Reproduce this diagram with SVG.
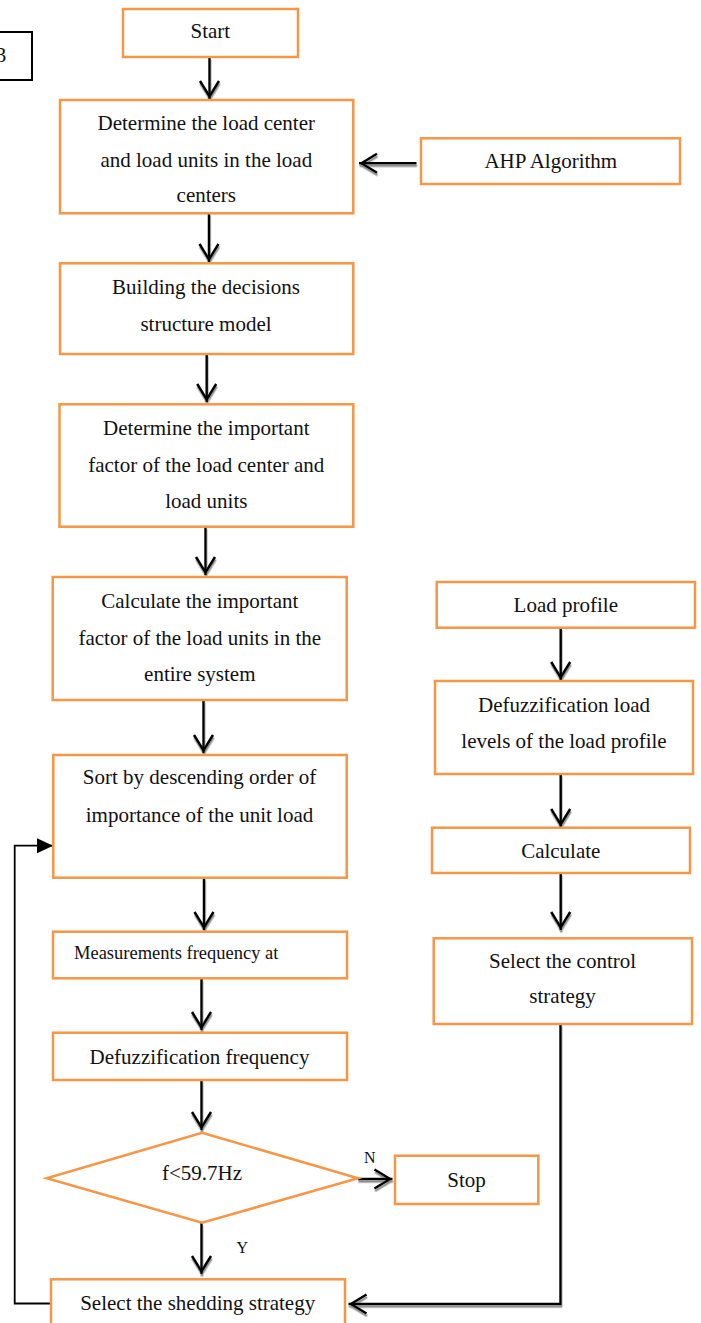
<svg xmlns="http://www.w3.org/2000/svg" width="701" height="1323" viewBox="0 0 701 1323">
  <style>
    .box { fill: #ffffff; stroke: #F79646; stroke-width: 2.5; }
    .t { font-family: "Liberation Serif", "Times New Roman", serif; font-size: 21px; fill: #111111; text-anchor: middle; }
    .ts { font-family: "Liberation Serif", "Times New Roman", serif; font-size: 18.5px; fill: #111111; }
    .lbl { font-family: "Liberation Serif", "Times New Roman", serif; font-size: 16px; fill: #111111; }
    .flow { fill: none; stroke: #000000; stroke-width: 2.5; marker-end: url(#vee); }
    .plain { fill: none; stroke: #000000; stroke-width: 2.5; }
    .loop { fill: none; stroke: #000000; stroke-width: 1.8; marker-end: url(#tri); }
  </style>
  <defs>
    <marker id="vee" viewBox="-22 -12 26 24" refX="0" refY="0" markerWidth="26" markerHeight="24" markerUnits="userSpaceOnUse" orient="auto">
      <path d="M-18,-9.5 L-2.5,0 L-18,9.5" fill="none" stroke="#000000" stroke-width="2.5"/>
    </marker>
    <marker id="tri" viewBox="-18 -9 20 18" refX="0" refY="0" markerWidth="20" markerHeight="18" markerUnits="userSpaceOnUse" orient="auto">
      <path d="M-16,-7.5 L0,0 L-16,7.5 Z" fill="#000000"/>
    </marker>
    <filter id="shade" x="-20%" y="-20%" width="140%" height="140%">
      <feDropShadow dx="0.5" dy="2.5" stdDeviation="0.6" flood-color="#7a7a7a" flood-opacity="0.85"/>
    </filter>
  </defs>

  <!-- partial frame at the left margin -->
  <g id="fig-tag">
    <rect x="-20" y="32" width="52" height="48" fill="#ffffff" stroke="#000000" stroke-width="2"/>
    <text class="t" x="1" y="62">3</text>
  </g>

  <!-- connectors -->
  <g id="connectors">
    <g filter="url(#shade)">
      <line class="flow" x1="209.5" y1="57" x2="209.5" y2="99"/>
      <line class="flow" x1="416.5" y1="163.3" x2="359" y2="163.3"/>
      <line class="flow" x1="209" y1="213.3" x2="209" y2="262"/>
      <line class="flow" x1="206.7" y1="354" x2="206.7" y2="402"/>
      <line class="flow" x1="205.5" y1="526.7" x2="205.5" y2="575"/>
      <line class="flow" x1="203.5" y1="700" x2="203.5" y2="753"/>
      <line class="flow" x1="204" y1="877.7" x2="204" y2="930"/>
      <line class="flow" x1="201.5" y1="978.3" x2="201.5" y2="1030"/>
      <line class="flow" x1="201.5" y1="1080" x2="201.5" y2="1130"/>
      <line class="flow" x1="201.5" y1="1222.7" x2="201.5" y2="1274"/>
      <line class="flow" x1="358" y1="1179" x2="392.5" y2="1179"/>
      <line class="flow" x1="560.7" y1="627.7" x2="560.7" y2="680"/>
      <line class="flow" x1="560.7" y1="774" x2="560.7" y2="827"/>
      <line class="flow" x1="560.7" y1="873" x2="560.7" y2="930"/>
      <polyline class="flow" points="560.5,1024 560.5,1304 348.5,1304"/>
    </g>
    <polyline class="loop" points="51,1303.5 14.7,1303.5 14.7,845.7 53,845.7"/>
  </g>

  <g id="n-start">
    <rect class="box" x="123" y="9" width="175" height="48"/>
    <text class="t" x="210.3" y="38.3">Start</text>
  </g>

  <g id="n-load-center">
    <rect class="box" x="60" y="100" width="293.3" height="113.3"/>
    <text class="t" x="206.3" y="130">Determine the load center</text>
    <text class="t" x="206.3" y="166.7">and load units in the load</text>
    <text class="t" x="206.3" y="202">centers</text>
  </g>

  <g id="n-ahp">
    <rect class="box" x="421" y="138.3" width="259" height="45.7"/>
    <text class="t" x="550.8" y="168.3">AHP Algorithm</text>
  </g>

  <g id="n-structure">
    <rect class="box" x="60" y="263.3" width="293.3" height="90.7"/>
    <text class="t" x="206" y="294">Building the decisions</text>
    <text class="t" x="206" y="330.7">structure model</text>
  </g>

  <g id="n-factor-center">
    <rect class="box" x="59.5" y="404.3" width="293.8" height="122.4"/>
    <text class="t" x="206.3" y="435">Determine the important</text>
    <text class="t" x="206.3" y="471.7">factor of the load center and</text>
    <text class="t" x="206.3" y="508.3">load units</text>
  </g>

  <g id="n-factor-system">
    <rect class="box" x="52.7" y="577" width="294" height="123"/>
    <text class="t" x="199.8" y="608">Calculate the important</text>
    <text class="t" x="199.8" y="645">factor of the load units in the</text>
    <text class="t" x="199.8" y="680.7">entire system</text>
  </g>

  <g id="n-sort">
    <rect class="box" x="53.3" y="755" width="293.4" height="122.7"/>
    <text class="t" x="199.5" y="784">Sort by descending order of</text>
    <text class="t" x="199.5" y="821.7">importance of the unit load</text>
  </g>

  <g id="n-measure">
    <rect class="box" x="53" y="931.7" width="294" height="46.6"/>
    <text class="ts" x="74" y="959">Measurements frequency at</text>
  </g>

  <g id="n-defuzz-freq">
    <rect class="box" x="53" y="1032.7" width="294" height="47.3"/>
    <text class="t" x="199.5" y="1064">Defuzzification frequency</text>
  </g>

  <g id="n-decision">
    <polygon class="box" points="202,1132.7 358,1178.3 202,1222.7 46.7,1178.3"/>
    <text class="t" x="202" y="1180">f&lt;59.7Hz</text>
    <text class="lbl" x="364" y="1163.3">N</text>
    <text class="lbl" x="236.5" y="1253.3">Y</text>
  </g>

  <g id="n-stop">
    <rect class="box" x="395" y="1155.7" width="143.3" height="48.3"/>
    <text class="t" x="466.5" y="1186.7">Stop</text>
  </g>

  <g id="n-shedding">
    <rect class="box" x="51" y="1279.3" width="294" height="60"/>
    <text class="t" x="197.7" y="1310">Select the shedding strategy</text>
  </g>

  <g id="n-load-profile">
    <rect class="box" x="436.7" y="582" width="258.3" height="45.7"/>
    <text class="t" x="565.8" y="611.7">Load profile</text>
  </g>

  <g id="n-defuzz-load">
    <rect class="box" x="435" y="681" width="258" height="93"/>
    <text class="t" x="564" y="711.7">Defuzzification load</text>
    <text class="t" x="564" y="748">levels of the load profile</text>
  </g>

  <g id="n-calculate">
    <rect class="box" x="432" y="827.7" width="258" height="45.3"/>
    <text class="t" x="560.8" y="857.7">Calculate</text>
  </g>

  <g id="n-control">
    <rect class="box" x="433.7" y="938.3" width="258.3" height="85.7"/>
    <text class="t" x="562.6" y="968">Select the control</text>
    <text class="t" x="562.6" y="1003">strategy</text>
  </g>
</svg>
